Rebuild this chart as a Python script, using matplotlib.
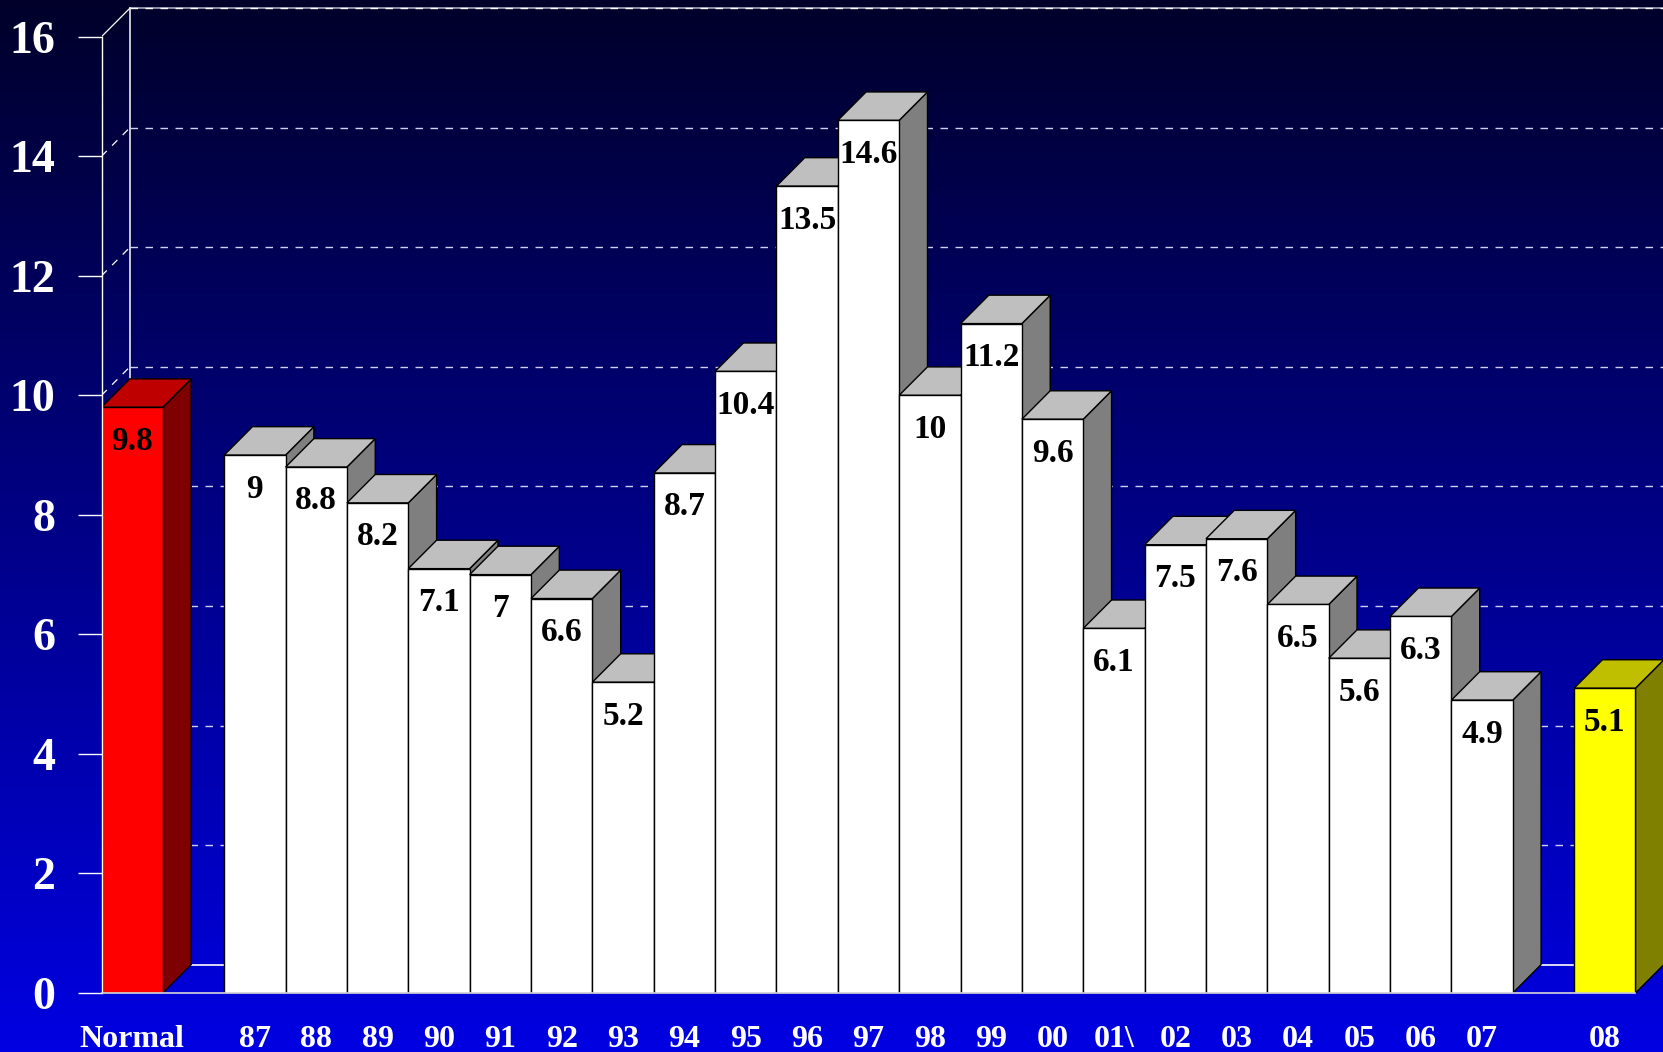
import numpy as np
import matplotlib
matplotlib.use("Agg")
import matplotlib.pyplot as plt

categories = ["Normal", "87", "88", "89", "90", "91", "92", "93", "94", "95", "96", "97",
              "98", "99", "00", "01\\", "02", "03", "04", "05", "06", "07", "08"]
values = [9.8, 9, 8.8, 8.2, 7.1, 7, 6.6, 5.2, 8.7, 10.4, 13.5, 14.6,
          10, 11.2, 9.6, 6.1, 7.5, 7.6, 6.5, 5.6, 6.3, 4.9, 5.1]
# slot of each bar, gaps after Normal and before 08
slots = [0] + list(range(2, 23)) + [24]
yticks = [0, 2, 4, 6, 8, 10, 12, 14, 16]

# front, top, side colours
white_bar = ["#ffffff", "#bfbfbf", "#7f7f7f"]
red_bar = ["#ff0000", "#bf0000", "#7f0000"]
yellow_bar = ["#ffff00", "#bfbf00", "#7f7f00"]

W, H = 1663, 1052
plt.rcParams["font.family"] = ["Liberation Serif", "DejaVu Serif"]
plt.rcParams["font.weight"] = "bold"

fig = plt.figure(figsize=(W / 100, H / 100), dpi=100)

# background gradient
bg = fig.add_axes([0, 0, 1, 1], zorder=0)
grad = np.zeros((256, 1, 3))
grad[:, 0, 2] = np.linspace(42, 226, 256) / 255
bg.imshow(grad, aspect="auto", interpolation="bilinear")
bg.axis("off")

# axes box in pixels of the target: x from 101.5, zero line at y=993
x0 = 101.5
ax = fig.add_axes([x0 / W, (H - 993) / H, (W - x0) / W, 993 / H], zorder=1)
ax.patch.set_alpha(0)
slot_w = 61.36
unit_h = 59.77
xmax = (W - x0) / slot_w
ax.set_xlim(0, xmax)
ax.set_ylim(0, 993 / unit_h)
dx = 28.3 / slot_w
dy = 28.4 / unit_h

# back wall and grid
for v in yticks[1:-1]:
    ax.plot([dx, xmax], [v + dy, v + dy], color="#d0d0f0", lw=1.0, dashes=(5.4, 5.4), zorder=1)
    ax.plot([0, dx], [v, v + dy], color="white", lw=0.9, dashes=(6, 6), zorder=1)
ax.plot([dx, xmax], [16 + dy, 16 + dy], color="#a8a8c0", lw=1.2, zorder=1)
ax.plot([dx, xmax], [16 + dy, 16 + dy], color="white", lw=1.0, dashes=(5.4, 5.4), zorder=1)
ax.plot([0, dx], [16, 16 + dy], color="white", lw=0.9, zorder=1)
ax.plot([dx, dx], [dy, 16 + dy], color="#e8e8e8", lw=1.2, zorder=1)
ax.plot([dx, xmax], [dy, dy], color="white", lw=1.2, zorder=1)

# 3D bars, painted left to right
for i, (s, v) in enumerate(zip(slots, values)):
    cols = white_bar
    if categories[i] == "Normal":
        cols = red_bar
    elif categories[i] == "08":
        cols = yellow_bar
    z = 2 + i * 0.01
    ax.fill([s + 1, s + 1 + dx, s + 1 + dx, s + 1], [0, dy, v + dy, v], facecolor=cols[2],
            edgecolor="black", lw=1.0, zorder=z)
    ax.fill([s, s + dx, s + 1 + dx, s + 1], [v, v + dy, v + dy, v], facecolor=cols[1],
            edgecolor="black", lw=1.0, zorder=z)
    ax.fill([s, s + 1, s + 1, s], [0, 0, v, v], facecolor=cols[0],
            edgecolor="black", lw=1.0, zorder=z)
    ax.text(s + 0.5, v - 0.71, "%g" % v, color="black", ha="center", va="baseline",
            fontsize=24, fontweight="bold", zorder=3)

ax.set_yticks(yticks)
ax.set_yticklabels([str(t) for t in yticks], fontsize=33, color="white")
ax.tick_params(axis="y", length=17.3, width=1.0, color="white", pad=16)
ax.set_xticks([s + 0.5 for s in slots])
ax.set_xticklabels(categories, fontsize=23, color="white", va="baseline")
ax.tick_params(axis="x", length=0, pad=39)

for name in ["top", "right"]:
    ax.spines[name].set_visible(False)
ax.spines["left"].set_color("white")
ax.spines["left"].set_bounds(0, 16)
ax.spines["left"].set_linewidth(1.0)
ax.spines["bottom"].set_color("#d8d8d8")
ax.spines["bottom"].set_bounds(0, 25)
ax.spines["bottom"].set_linewidth(1.2)
for sp in ax.spines.values():
    sp.set_zorder(4)

fig.savefig("out.png", dpi=100)
